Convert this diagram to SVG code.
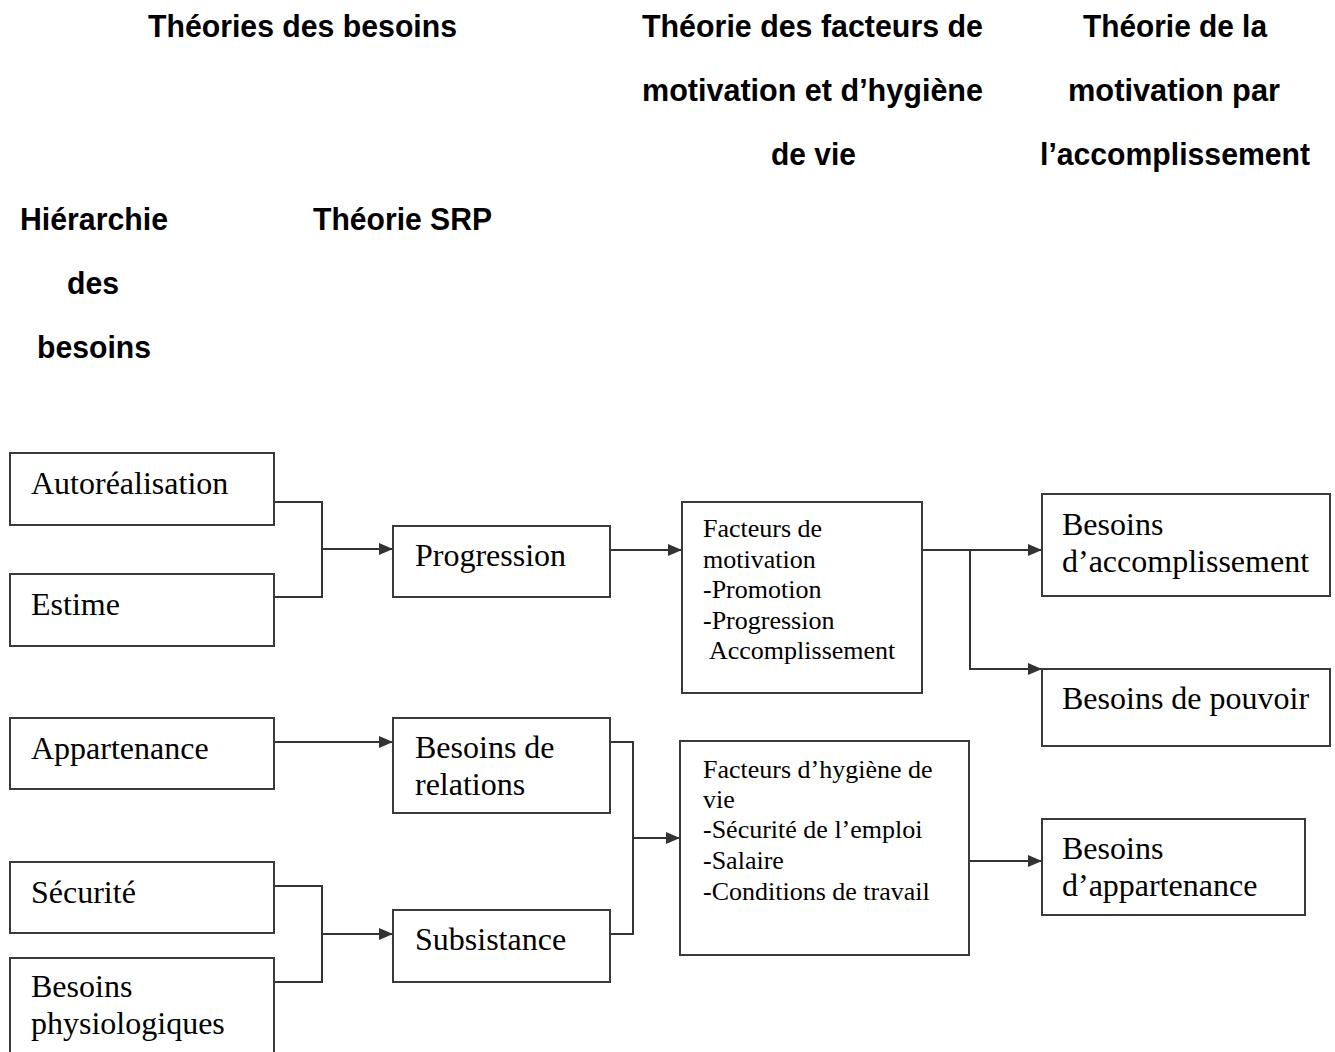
<svg xmlns="http://www.w3.org/2000/svg" width="1335" height="1052" viewBox="0 0 1335 1052">
<style>
.h{font-family:"Liberation Sans",Arial,sans-serif;font-weight:bold;font-size:32px;fill:#000;text-anchor:middle}
.box{fill:#fff;stroke:#3a3a3a;stroke-width:2}
.t{font-family:"Liberation Serif","Times New Roman",serif;font-size:32px;fill:#000}
.s{font-family:"Liberation Serif","Times New Roman",serif;font-size:26px;fill:#000}
.c{fill:none;stroke:#333;stroke-width:2}
</style>
<defs>
<marker id="ah" markerUnits="userSpaceOnUse" markerWidth="15" markerHeight="13" refX="14" refY="6" orient="auto">
<path d="M0,0 L14,6 L0,12 z" fill="#333"/>
</marker>
</defs>
<g id="headings">
<text class="h" x="302.5" y="37" textLength="309" lengthAdjust="spacingAndGlyphs">Théories des besoins</text>
<text class="h" x="812.5" y="37" textLength="341" lengthAdjust="spacingAndGlyphs">Théorie des facteurs de</text>
<text class="h" x="812.5" y="101" textLength="341" lengthAdjust="spacingAndGlyphs">motivation et d’hygiène</text>
<text class="h" x="813.5" y="165" textLength="85" lengthAdjust="spacingAndGlyphs">de vie</text>
<text class="h" x="1175" y="37" textLength="184" lengthAdjust="spacingAndGlyphs">Théorie de la</text>
<text class="h" x="1174" y="101" textLength="212" lengthAdjust="spacingAndGlyphs">motivation par</text>
<text class="h" x="1175" y="165" textLength="270" lengthAdjust="spacingAndGlyphs">l’accomplissement</text>
<text class="h" x="94" y="230" textLength="148" lengthAdjust="spacingAndGlyphs">Hiérarchie</text>
<text class="h" x="93" y="294" textLength="52" lengthAdjust="spacingAndGlyphs">des</text>
<text class="h" x="94" y="358" textLength="114" lengthAdjust="spacingAndGlyphs">besoins</text>
<text class="h" x="402.5" y="230" textLength="179" lengthAdjust="spacingAndGlyphs">Théorie SRP</text>
</g>
<g id="connectors">
<path class="c" d="M274,502 H322 V597 H274"/>
<path class="c" d="M322,549 H393" marker-end="url(#ah)"/>
<path class="c" d="M610,550 H682" marker-end="url(#ah)"/>
<path class="c" d="M922,550 H1042" marker-end="url(#ah)"/>
<path class="c" d="M970,550 V669 H1042" marker-end="url(#ah)"/>
<path class="c" d="M274,742 H393" marker-end="url(#ah)"/>
<path class="c" d="M274,886 H322 V982 H274"/>
<path class="c" d="M322,934 H393" marker-end="url(#ah)"/>
<path class="c" d="M610,742 H633 V934 H610"/>
<path class="c" d="M633,838 H680" marker-end="url(#ah)"/>
<path class="c" d="M969,861 H1042" marker-end="url(#ah)"/>
</g>
<g id="n-autorealisation"><rect class="box" x="10" y="453" width="264" height="72"/><text class="t" x="31" y="494">Autoréalisation</text></g>
<g id="n-estime"><rect class="box" x="10" y="574" width="264" height="72"/><text class="t" x="31" y="615">Estime</text></g>
<g id="n-appartenance"><rect class="box" x="10" y="718" width="264" height="71"/><text class="t" x="31" y="759">Appartenance</text></g>
<g id="n-securite"><rect class="box" x="10" y="862" width="264" height="71"/><text class="t" x="31" y="903">Sécurité</text></g>
<g id="n-physiologiques"><rect class="box" x="10" y="958" width="264" height="110"/><text class="t" x="31" y="997">Besoins</text><text class="t" x="31" y="1034">physiologiques</text></g>
<g id="n-progression"><rect class="box" x="393" y="526" width="217" height="71"/><text class="t" x="415" y="566">Progression</text></g>
<g id="n-relations"><rect class="box" x="393" y="718" width="217" height="95"/><text class="t" x="415" y="758">Besoins de</text><text class="t" x="415" y="795">relations</text></g>
<g id="n-subsistance"><rect class="box" x="393" y="910" width="217" height="72"/><text class="t" x="415" y="950">Subsistance</text></g>
<g id="n-motivation"><rect class="box" x="682" y="502" width="240" height="191"/>
<text class="s" x="703" y="537">Facteurs de</text>
<text class="s" x="703" y="567.5">motivation</text>
<text class="s" x="703" y="598">-Promotion</text>
<text class="s" x="703" y="628.5">-Progression</text>
<text class="s" x="709" y="659">Accomplissement</text></g>
<g id="n-hygiene"><rect class="box" x="680" y="741" width="289" height="214"/>
<text class="s" x="703" y="778">Facteurs d’hygiène de</text>
<text class="s" x="703" y="808">vie</text>
<text class="s" x="703" y="838">-Sécurité de l’emploi</text>
<text class="s" x="703" y="869">-Salaire</text>
<text class="s" x="703" y="900">-Conditions de travail</text></g>
<g id="n-accomplissement"><rect class="box" x="1042" y="494" width="288" height="102"/><text class="t" x="1062" y="535">Besoins</text><text class="t" x="1062" y="572">d’accomplissement</text></g>
<g id="n-pouvoir"><rect class="box" x="1042" y="669" width="288" height="77"/><text class="t" x="1062" y="709">Besoins de pouvoir</text></g>
<g id="n-appartenance2"><rect class="box" x="1042" y="819" width="263" height="96"/><text class="t" x="1062" y="859">Besoins</text><text class="t" x="1062" y="896">d’appartenance</text></g>
</svg>
